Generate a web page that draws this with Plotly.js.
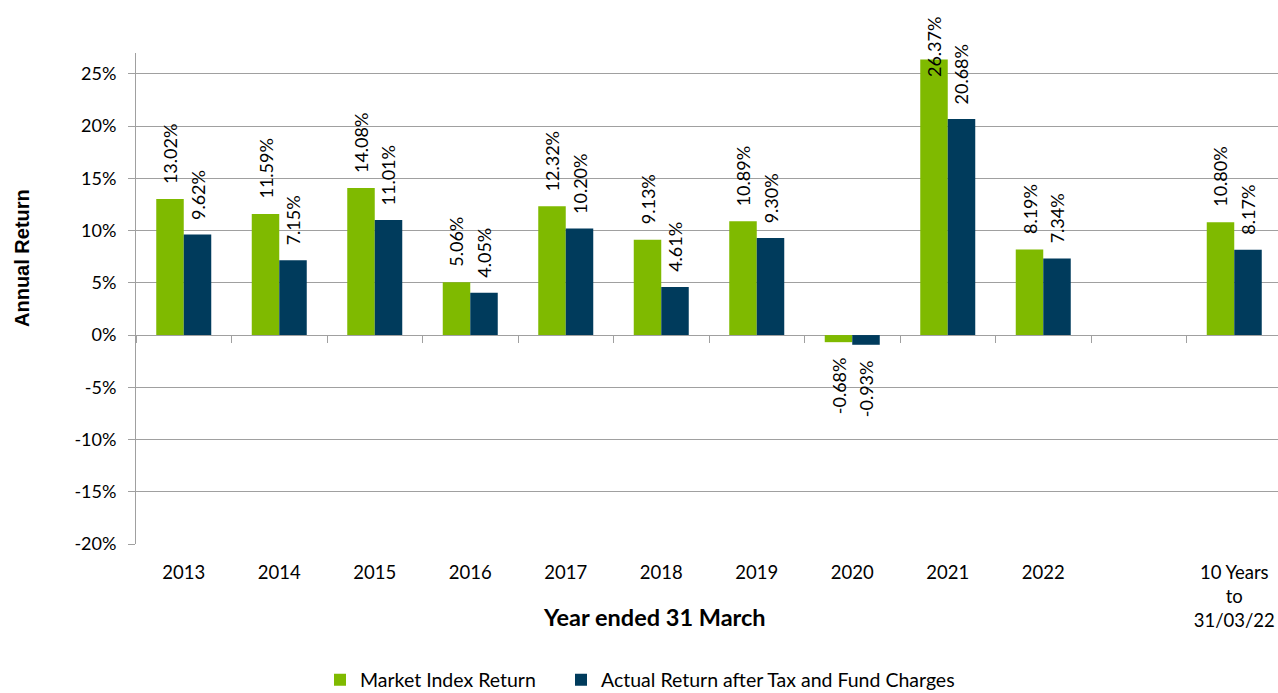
<!DOCTYPE html>
<html>
<head>
<meta charset="utf-8">
<script src="https://cdn.plot.ly/plotly-3.0.1.min.js"></script>
<style>html,body{margin:0;padding:0;background:#fff;}#chart{width:1278px;height:693px;}</style>
</head>
<body>
<div id="chart"></div>
<script>
const categories = ['2013','2014','2015','2016','2017','2018','2019','2020','2021','2022',' ','10 Years<br>to<br>31/03/22'];
const marketIndex = [13.02, 11.59, 14.08, 5.06, 12.32, 9.13, 10.89, -0.68, 26.37, 8.19, null, 10.80];
const actualReturn = [9.62, 7.15, 11.01, 4.05, 10.20, 4.61, 9.30, -0.93, 20.68, 7.34, null, 8.17];
const yTickVals = [-20, -15, -10, -5, 0, 5, 10, 15, 20, 25];
const yTickText = yTickVals.map(v => v + '%');
const seriesNames = ['Market Index Return', 'Actual Return after Tax and Fund Charges'];
const seriesColors = ['#7fba00', '#003b5c'];

const W = 1278, H = 693;
const mL = 136, mR = 0, mT = 53, mB = 149;
const yMin = -20, yMax = 27;
const plotH = H - mT - mB;
const plotW = W - mL - mR;
const ppu = plotH / (yMax - yMin);
const FONT = 'Lato, "Open Sans", sans-serif';

const traces = [
  {type:'bar', name:seriesNames[0], x:categories, y:marketIndex, marker:{color:seriesColors[0], line:{width:0}}, hoverinfo:'skip', legend:'legend'},
  {type:'bar', name:seriesNames[1], x:categories, y:actualReturn, marker:{color:seriesColors[1], line:{width:0}}, hoverinfo:'skip', legend:'legend2'},
  {type:'scatter', mode:'none', x:categories, y:categories.map(() => 0), xaxis:'x2', yaxis:'y', showlegend:false, hoverinfo:'skip'}
];

const annotations = [];
const labelGap = 13, labelLen = 64, topLimitPx = 15;
[marketIndex, actualReturn].forEach((series, si) => {
  const xs = si === 0 ? -13.7 : 13.7;
  series.forEach((v, i) => {
    if (v === null) return;
    const txt = v.toFixed(2) + '%';
    const base = {x:i, xref:'x', xshift:xs, text:txt, textangle:-90, showarrow:false,
      font:{family:FONT, size:18, color:'#000'}, xanchor:'center'};
    if (v >= 0) {
      const topPx = mT + (yMax - v) * ppu - labelGap - labelLen;
      if (topPx < topLimitPx) {
        annotations.push(Object.assign(base, {y:1, yref:'paper', yanchor:'top', yshift:mT - topLimitPx}));
      } else {
        annotations.push(Object.assign(base, {y:v, yref:'y', yanchor:'bottom', yshift:labelGap}));
      }
    } else {
      annotations.push(Object.assign(base, {y:v, yref:'y', yanchor:'top', yshift:-labelGap}));
    }
  });
});

annotations.push({text:'<b>Annual Return</b>', textangle:-90, showarrow:false, xref:'paper', yref:'paper',
  x:(22 - mL) / plotW, y:(H - mB - 258) / plotH, xanchor:'center', yanchor:'middle',
  font:{family:'"Liberation Sans", Arial, sans-serif', size:20, color:'#000'}});
annotations.push({text:'<b>Year ended 31 March</b>', showarrow:false, xref:'paper', yref:'paper',
  x:(654 - mL) / plotW, y:(H - mB - 617) / plotH, xanchor:'center', yanchor:'middle',
  font:{family:FONT, size:23.5, color:'#000'}});

const catPx = 95.5;
const xRange = [-0.5, -0.5 + plotW / catPx];
const legendY = (H - mB - 680) / plotH;
const legendBase = {orientation:'h', xanchor:'left', y:legendY, yanchor:'middle',
  font:{family:FONT, size:19.5, color:'#000'}, itemwidth:30, bgcolor:'rgba(0,0,0,0)'};

const layout = {
  width:W, height:H,
  margin:{l:mL, r:mR, t:mT, b:mB, pad:0, autoexpand:false},
  paper_bgcolor:'#fff', plot_bgcolor:'#fff',
  barmode:'group', bargap:0.424, bargroupgap:0,
  font:{family:FONT, size:18, color:'#000'},
  showlegend:true,
  legend:Object.assign({}, legendBase, {x:(320 - mL) / plotW}),
  legend2:Object.assign({}, legendBase, {x:(561 - mL) / plotW}),
  xaxis:{type:'category', categoryorder:'array', categoryarray:categories, range:xRange,
    showgrid:false, zeroline:false, showline:false, ticks:'', ticklabelstandoff:15,
    tickfont:{family:FONT, size:18.5, color:'#000'}, fixedrange:true},
  xaxis2:{type:'category', categoryorder:'array', categoryarray:categories, range:xRange, overlaying:'x',
    anchor:'free', position:(0 - yMin) / (yMax - yMin), side:'bottom',
    showgrid:false, zeroline:false, showline:false, ticks:'outside', tickson:'boundaries', ticklen:7,
    tickcolor:'#a0a0a0', tickwidth:1, showticklabels:false, fixedrange:true},
  yaxis:{range:[yMin, yMax], tickvals:yTickVals, ticktext:yTickText, showgrid:true, gridcolor:'#a0a0a0', gridwidth:1,
    zeroline:false, showline:true, linecolor:'#a0a0a0', linewidth:1, ticks:'outside', ticklen:7, tickcolor:'#a0a0a0',
    ticklabelstandoff:8, tickfont:{family:FONT, size:18, color:'#000'}, fixedrange:true},
  annotations:annotations
};

Plotly.newPlot('chart', traces, layout, {displayModeBar:false, staticPlot:true});
</script>
</body>
</html>
